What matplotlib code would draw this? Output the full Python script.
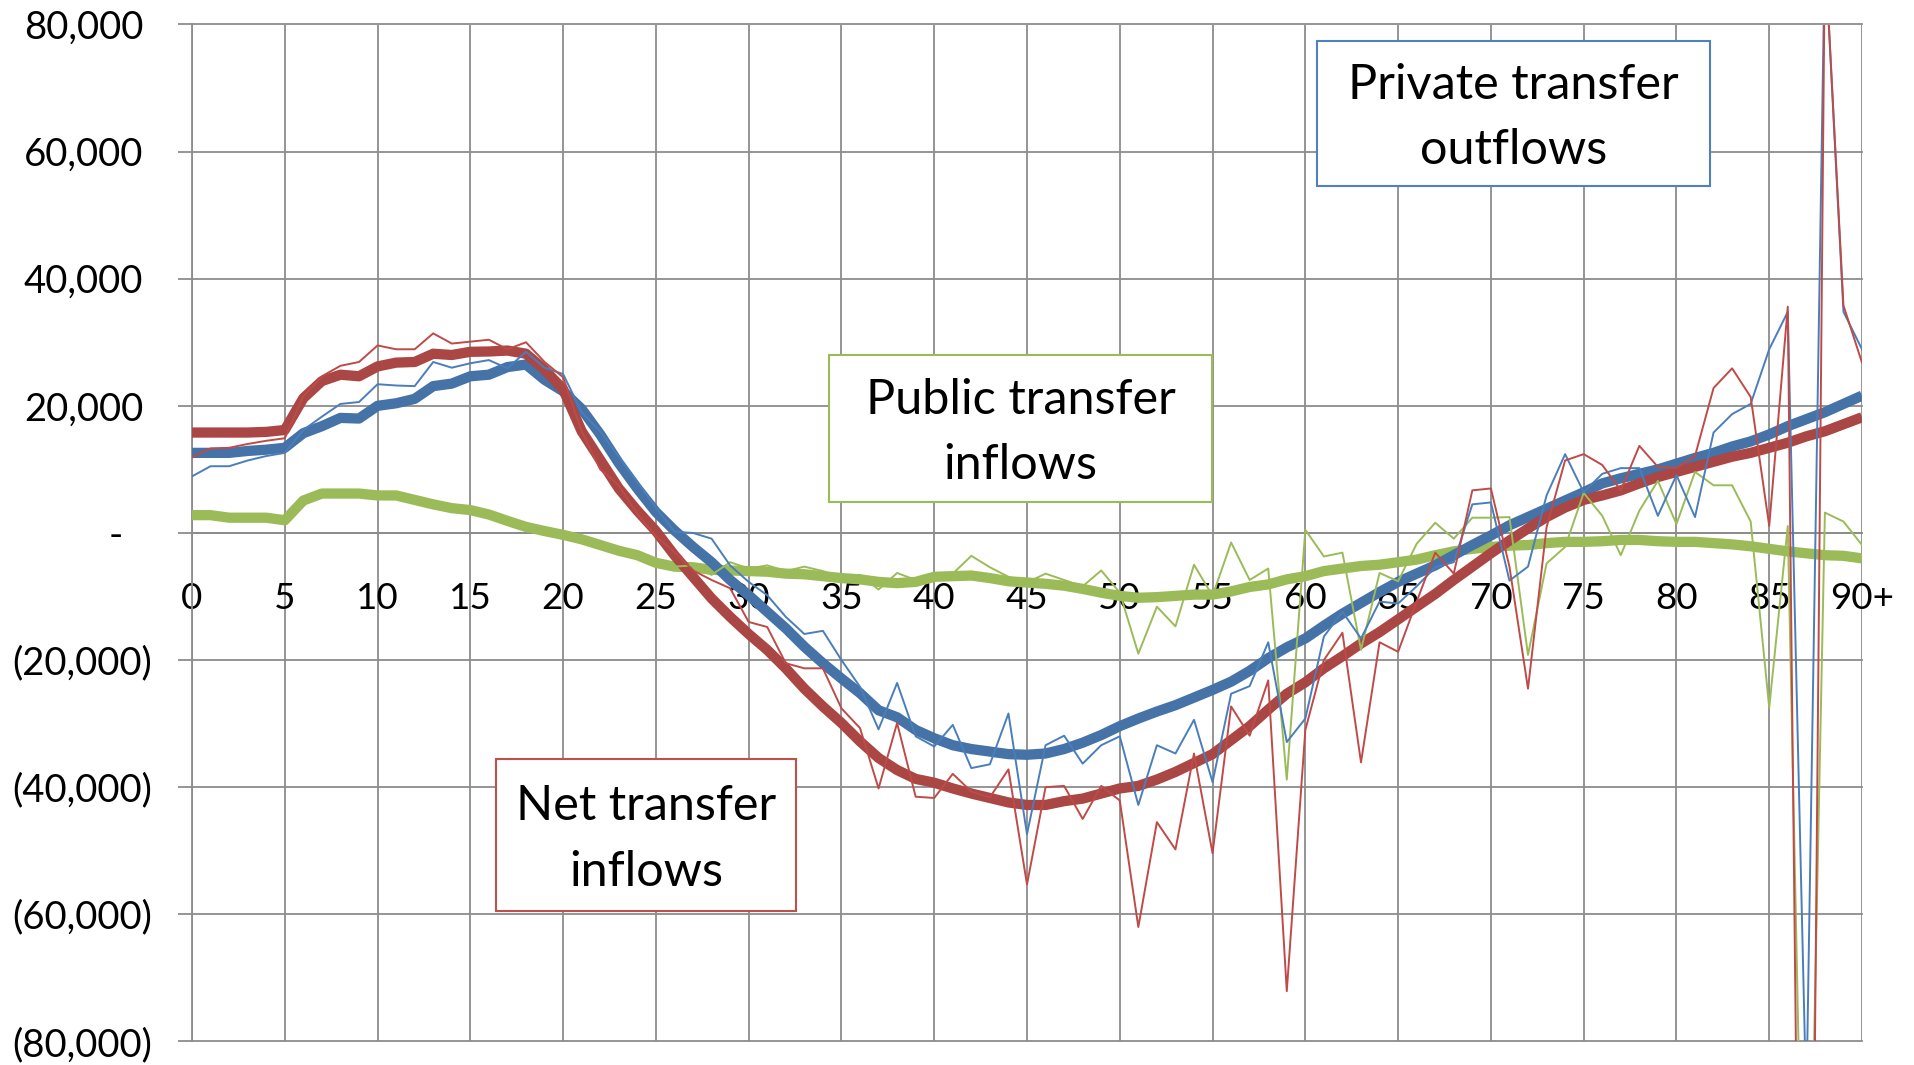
import matplotlib
matplotlib.use("Agg")
import matplotlib.pyplot as plt
from matplotlib.patches import Rectangle
from matplotlib.transforms import blended_transform_factory, ScaledTranslation

plt.rcParams['font.family'] = ['Lato', 'DejaVu Sans']

ages = list(range(91))
x_tick_vals = list(range(0, 91, 5))
x_tick_labels = [str(v) for v in range(0, 90, 5)] + ["90+"]
y_tick_vals = [80000, 60000, 40000, 20000, 0, -20000, -40000, -60000, -80000]
y_tick_labels = ["80,000", "60,000", "40,000", "20,000", "-",
                 "(20,000)", "(40,000)", "(60,000)", "(80,000)"]

net_smooth = [15800, 15800, 15800, 15800, 15900, 16200, 21200, 23900, 24900, 24650,
              26200, 26800, 26900, 28200, 28000, 28500, 28550, 28700, 28200, 25700,
              22600, 16000, 11500, 7000, 3500, 300, -3500, -6900, -10300, -13200,
              -15900, -18400, -21300, -24500, -27300, -29900, -32800, -35400, -37300, -38700,
              -39300, -40200, -41000, -41700, -42400, -42800, -42800, -42200, -41800, -41000,
              -40200, -39800, -38800, -37600, -36200, -34800, -32600, -30400, -27800, -25300,
              -23500, -21300, -19400, -17400, -15600, -13600, -11600, -9600, -7400, -5300,
              -3200, -1200, 700, 2500, 4000, 5200, 5900, 6700, 7800, 8800,
              9600, 10400, 11200, 12000, 12600, 13400, 14200, 15200, 16000, 17100, 18200]

private_smooth = [12600, 12600, 12600, 12900, 13100, 13400, 15700, 16800, 18100, 18000,
                  20000, 20400, 21100, 23100, 23500, 24650, 24900, 26100, 26500, 24100,
                  22300, 19500, 15500, 11000, 7000, 3300, 400, -2200, -4600, -7400,
                  -9800, -12400, -15000, -17900, -20500, -22900, -25200, -27900, -29000, -31000,
                  -32300, -33400, -34000, -34400, -34800, -34900, -34700, -34000, -33000, -31800,
                  -30400, -29200, -28100, -27100, -25900, -24700, -23400, -21700, -19700, -18000,
                  -16600, -14600, -12700, -11000, -9300, -7700, -6400, -5100, -3500, -1900,
                  -400, 1200, 2500, 3800, 5100, 6400, 7800, 8600, 9300, 10000,
                  10900, 11800, 12600, 13600, 14400, 15500, 16800, 17900, 19000, 20300, 21600]

public_smooth = [2800, 2800, 2400, 2400, 2400, 2000, 5100, 6200, 6200, 6200,
                 5900, 5900, 5200, 4500, 3900, 3600, 2900, 1900, 950, 300,
                 -300, -1000, -1900, -2800, -3500, -4700, -5300, -5400, -5800, -5900,
                 -6000, -6100, -6400, -6500, -6800, -7100, -7300, -7700, -7900, -7700,
                 -6900, -6800, -6700, -7100, -7600, -7800, -8000, -8300, -8800, -9400,
                 -9900, -10200, -10100, -9900, -9700, -9700, -9200, -8500, -8100, -7300,
                 -6800, -6000, -5600, -5200, -5000, -4600, -4200, -3500, -2900, -2500,
                 -2200, -2000, -1900, -1600, -1400, -1400, -1300, -1100, -1100, -1300,
                 -1400, -1400, -1600, -1800, -2100, -2500, -2900, -3200, -3500, -3600, -4000]

net_raw = [11900, 13300, 13400, 14000, 14500, 14900, 21500, 24650, 26300, 26900,
           29500, 28900, 28900, 31400, 29800, 30100, 30400, 28900, 30000, 26900,
           24500, 16000, 10000, 7500, 3000, -500, -3000, -5900, -7400, -8700,
           -14000, -14800, -20500, -21300, -21300, -27600, -30700, -40200, -29900, -41500,
           -41700, -37900, -40700, -41600, -37200, -55300, -40000, -39800, -45000, -39800,
           -42100, -62000, -45500, -49800, -34700, -50400, -27300, -31900, -23200, -72100,
           -31000, -20000, -15700, -36100, -17200, -18700, -10800, -3100, -6400, 6700,
           7000, -5300, -24500, 900, 11400, 12400, 10700, 6700, 13700, 10400,
           10200, 12100, 22800, 25900, 21400, 1100, 35600, -230000, 92000, 35800, 26800]

private_raw = [8900, 10500, 10500, 11400, 12100, 12600, 16200, 18300, 20300, 20600,
               23400, 23200, 23100, 26900, 26000, 26700, 27200, 25900, 28500, 26000,
               25000, 19000, 16000, 12000, 8000, 4000, 200, 0, -900, -5100,
               -7700, -9800, -13200, -15900, -15400, -20000, -24200, -30900, -23600, -32000,
               -33600, -30200, -37000, -36400, -28400, -47400, -33400, -31900, -36300, -33400,
               -32000, -42800, -33400, -34700, -29400, -39200, -25300, -24100, -17200, -32900,
               -29200, -16300, -12400, -16600, -10800, -11100, -8400, -5400, -4600, 4500,
               4800, -7500, -5300, 5900, 12400, 6400, 9300, 10200, 10200, 2700,
               9100, 2500, 15800, 18700, 20300, 28900, 34800, -90000, 92000, 34800, 28900]

public_raw = [2800, 2800, 2400, 2400, 2400, 2000, 5100, 6200, 6200, 6200,
              5900, 5900, 5200, 4500, 3900, 3600, 2900, 1900, 950, 300,
              -300, -1000, -1900, -2800, -3500, -4700, -5300, -5100, -6600, -4600,
              -5600, -5100, -6000, -5300, -6000, -6900, -6600, -8900, -6300, -7400,
              -6900, -6400, -3600, -5400, -6900, -7800, -6400, -7400, -8400, -5900,
              -9400, -19000, -11600, -14700, -5000, -9900, -1500, -7400, -5600, -38800,
              500, -3700, -3100, -18400, -6300, -7600, -1700, 1600, -900, 2400,
              2400, 2500, -19200, -4800, -2200, 6300, 2700, -3500, 3500, 8200,
              1400, 9600, 7500, 7500, 1800, -27500, 1100, -140000, 3200, 1800, -1900]

W, H = 1914, 1065
fig = plt.figure(figsize=(W / 100, H / 100), dpi=100)
ax = fig.add_axes([192 / W, 1 - 1041.4 / H, 1670 / W, (1041.4 - 24.5) / H])

grid_color = '#8C8C8C'
thick = 7.4
thin = 1.4
ax.plot(ages, public_smooth, color='#9BBB59', lw=thick, zorder=3, solid_capstyle='butt')
ax.plot(ages, private_smooth, color='#4572A7', lw=thick, zorder=3, solid_capstyle='butt')
ax.plot(ages, net_smooth, color='#AA4643', lw=thick, zorder=3, solid_capstyle='butt')
ax.plot(ages, public_raw, color='#9BBB59', lw=thin, zorder=4)
ax.plot(ages, private_raw, color='#4A7EBB', lw=thin, zorder=4)
ax.plot(ages, net_raw, color='#BE4B48', lw=thin, zorder=4)

ax.set_xlim(0, 90)
ax.set_ylim(-80000, 80000)
ax.set_axisbelow(True)

ax.set_xticks(x_tick_vals)
ax.set_xticklabels(x_tick_labels, fontsize=26.5)
ax.set_yticks(y_tick_vals)
ax.set_yticklabels([])
ax.grid(True, color=grid_color, lw=1.3)
for ln in ax.get_xgridlines() + ax.get_ygridlines():
    ln.set_clip_on(False)

for s in ['top', 'right']:
    ax.spines[s].set_visible(False)
ax.spines['left'].set_color(grid_color)
ax.spines['left'].set_linewidth(1.3)
ax.spines['bottom'].set_position(('data', 0))
ax.spines['bottom'].set_color(grid_color)
ax.spines['bottom'].set_linewidth(1.3)
ax.tick_params(axis='x', length=0, pad=35, labelsize=26.5)
ax.tick_params(axis='y', length=10, color=grid_color, width=1.3, direction='out')

base = blended_transform_factory(ax.transAxes, ax.transData)
for v, lab in zip(y_tick_vals, y_tick_labels):
    if v > 0:
        dx = 49
    elif v < 0:
        dx = 40
    else:
        dx = 69
    tr = base + ScaledTranslation(-dx / 100, 0, fig.dpi_scale_trans)
    ax.text(0, v, lab, transform=tr, ha='right', va='center_baseline',
            fontsize=27.5, color='black', clip_on=False)

boxes = [
    ("Private transfer\noutflows", 1317, 41, 1710, 186, '#4F81BD'),
    ("Public transfer\ninflows", 829, 355, 1212, 502, '#9BBB59'),
    ("Net transfer\ninflows", 496, 759, 796, 911, '#C0504D'),
]
for text, x0, y0, x1, y1, col in boxes:
    rect = Rectangle((x0 / W, 1 - y1 / H), (x1 - x0) / W, (y1 - y0) / H,
                     transform=fig.transFigure, facecolor='white', edgecolor=col,
                     lw=1.5, zorder=10)
    fig.patches.append(rect)
    fig.text((x0 + x1) / 2 / W, 1 - ((y0 + y1) / 2 + 4) / H, text, ha='center', va='center',
             fontsize=35, linespacing=1.6, zorder=11, color='black')

fig.savefig('out.png', dpi=100)
